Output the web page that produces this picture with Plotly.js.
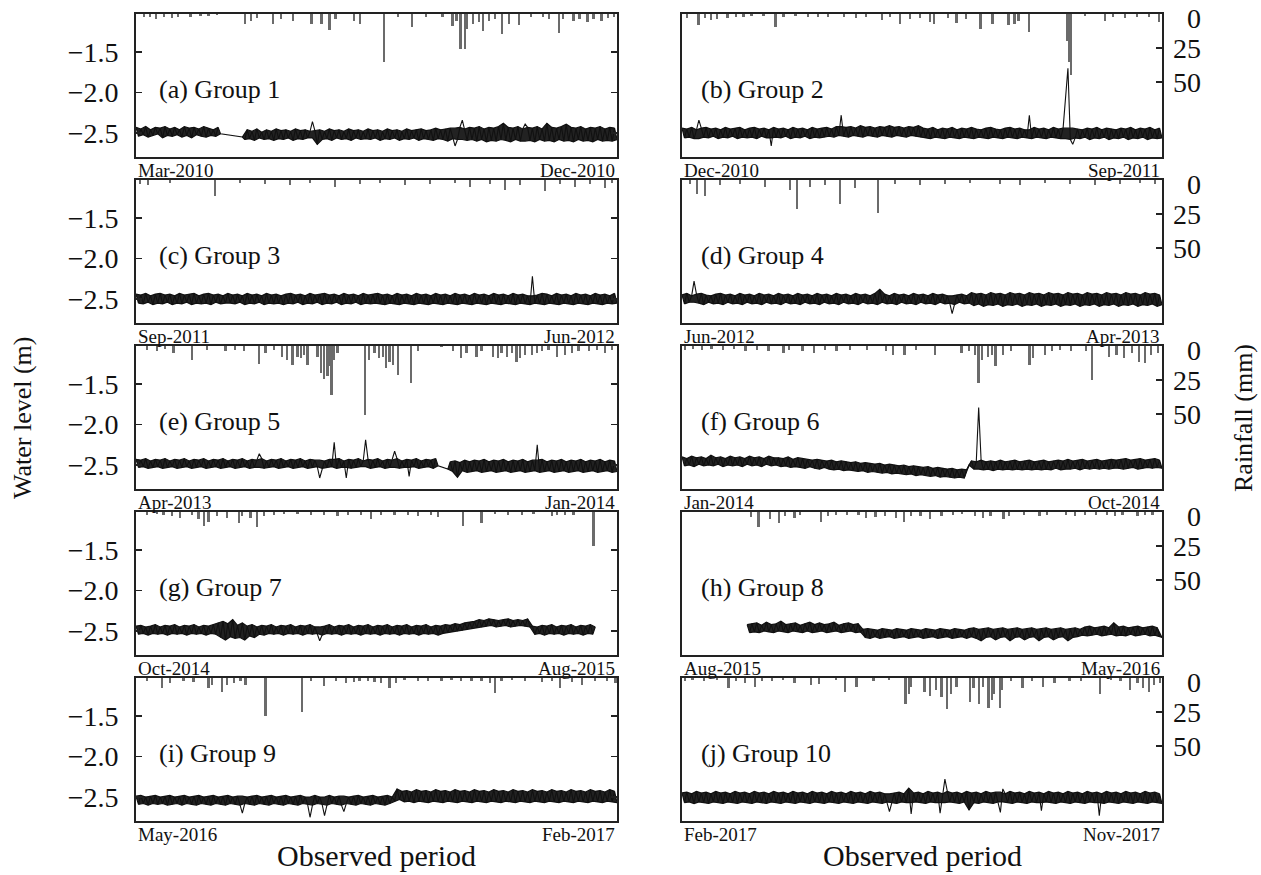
<!DOCTYPE html>
<html><head><meta charset="utf-8">
<script src="https://cdn.plot.ly/plotly-3.0.1.min.js"></script>
<style>html,body{margin:0;padding:0;background:#fff}#chart{width:1261px;height:875px}</style>
</head><body><div id="chart"></div>
<script>
// ---------- labels ----------
const groupLabels = ['(a) Group 1','(b) Group 2','(c) Group 3','(d) Group 4','(e) Group 5','(f) Group 6','(g) Group 7','(h) Group 8','(i) Group 9','(j) Group 10'];
const startMonths = ['Mar-2010','Dec-2010','Sep-2011','Jun-2012','Apr-2013','Jan-2014','Oct-2014','Aug-2015','May-2016','Feb-2017'];
const endMonths   = ['Dec-2010','Sep-2011','Jun-2012','Apr-2013','Jan-2014','Oct-2014','Aug-2015','May-2016','Feb-2017','Nov-2017'];
const levelTicks = [-1.5, -2.0, -2.5];
const levelTickText = ['\u22121.5','\u22122.0','\u22122.5'];
const rainTicks = [0, 25, 50];

// ---------- water level: depth below datum in cm (level = -depth/100 m), 200 evenly spaced readings per period; null = no record ----------
const depthA = [243,254,245,252,242,255,246,253,243,251,244,256,242,253,245,254,243,252,246,255,
242,253,244,256,243,252,245,254,242,255,244,253,246,254,243,251,null,null,null,null,
null,null,null,null,255,258,246,257,248,259,245,256,249,258,246,257,248,259,245,257,
247,258,246,256,248,259,245,257,247,258,246,256,248,236,247,264,246,258,248,257,
245,259,247,256,246,258,248,257,245,259,247,256,246,258,248,257,245,258,247,256,
246,259,248,257,245,258,247,256,246,259,248,257,245,258,247,256,246,259,245,257,
247,258,246,259,244,257,246,258,245,260,244,257,266,258,243,234,245,259,243,258,
244,260,242,258,245,261,243,259,244,260,242,258,238,259,243,261,244,258,242,260,
245,239,243,259,244,261,242,258,245,260,238,259,243,261,244,258,242,260,239,259,
243,261,244,258,242,260,245,259,243,261,244,258,242,260,245,259,243,260,244,258];
const depthB = [244,256,245,255,243,257,246,234,244,255,243,256,245,254,244,257,246,255,243,256,
245,254,244,257,243,255,246,256,244,255,243,257,245,254,244,256,246,266,243,255,
245,256,244,254,246,257,243,255,245,256,244,254,246,257,243,255,245,256,244,255,
243,254,245,255,242,253,228,254,243,255,242,253,244,254,241,255,243,253,242,254,
244,255,242,253,243,254,241,255,243,253,242,254,244,255,242,253,243,254,241,255,
244,256,245,257,243,255,246,256,244,257,245,255,243,256,246,257,244,255,245,256,
243,257,245,255,246,256,244,257,243,255,245,256,246,257,244,255,243,256,245,257,
244,255,246,256,228,257,243,255,245,256,244,257,246,255,243,256,245,257,244,203,
170,258,264,256,245,257,246,255,244,258,245,256,243,257,246,255,244,258,245,256,
246,257,244,255,245,258,243,256,246,257,244,255,245,258,243,256,246,257,244,256];
const depthC = [244,255,245,256,243,254,246,257,244,255,243,256,245,254,244,257,246,255,243,256,
245,254,244,257,243,255,246,256,244,255,243,257,245,254,244,256,246,255,243,255,
245,256,244,254,246,257,243,255,245,256,244,254,246,257,243,255,245,256,244,255,
246,257,244,255,243,256,245,254,244,257,246,255,243,256,245,254,244,257,243,255,
245,256,244,254,246,257,243,255,245,256,244,254,246,257,243,255,245,256,244,255,
243,256,245,257,244,255,246,256,243,257,245,255,244,256,246,257,243,255,245,256,
244,257,246,255,243,256,245,257,244,255,246,256,243,257,245,255,244,256,246,257,
243,255,245,256,244,257,246,255,243,256,245,257,244,255,246,256,243,257,245,255,
244,256,246,257,222,255,245,256,243,257,244,255,246,256,243,257,245,255,244,256,
246,257,243,255,245,256,244,257,246,255,243,256,245,257,244,255,246,256,243,255];
const depthD = [245,256,243,254,246,228,244,255,243,257,245,254,246,256,244,255,243,257,245,254,
244,256,246,255,243,257,245,254,244,256,246,255,243,257,245,254,244,256,246,255,
243,257,245,254,244,256,246,255,243,257,245,254,244,256,246,255,243,257,245,254,
244,256,246,255,243,257,245,254,244,256,246,255,243,257,245,254,244,256,246,255,
243,257,238,254,244,256,246,255,243,257,245,254,244,256,246,255,243,257,245,254,
244,256,246,255,243,257,245,254,244,256,246,255,268,257,245,254,244,256,246,255,
242,258,244,256,243,259,245,257,242,258,244,256,243,259,245,257,242,258,244,256,
243,259,245,257,242,258,244,256,243,259,245,257,242,258,244,256,243,259,245,257,
242,258,244,256,243,259,245,257,242,258,244,256,243,259,245,257,242,258,244,256,
243,259,245,257,242,258,244,256,243,259,245,257,242,258,244,256,243,259,245,257];
const depthE = [243,253,244,252,242,254,245,253,243,252,244,254,242,253,245,252,243,254,244,253,
242,252,245,254,243,253,244,252,242,254,245,253,243,252,244,254,242,253,245,252,
243,254,244,253,242,252,245,254,243,253,244,236,242,254,245,253,243,252,244,254,
242,253,245,252,243,254,244,253,242,252,245,254,243,253,244,252,266,254,245,253,
243,252,222,254,242,253,245,266,243,254,244,253,242,252,245,219,243,254,244,253,
242,252,245,254,243,253,244,233,242,254,245,253,243,264,244,252,242,254,245,253,
243,252,244,254,242,251,null,null,null,255,246,258,245,265,247,257,244,259,246,258,
244,257,245,259,243,258,246,257,244,259,245,258,243,257,246,259,244,258,245,257,
243,259,246,258,244,257,225,259,243,258,246,257,244,259,245,258,243,257,246,259,
244,258,245,257,243,259,246,258,244,257,245,259,243,258,246,257,244,259,245,258];
const depthF = [240,251,242,250,239,252,241,249,240,251,242,250,238,251,241,249,240,252,242,250,
239,251,241,250,240,252,242,249,239,251,241,250,240,252,242,249,239,251,241,250,
241,252,242,251,240,253,243,252,241,253,242,254,243,252,244,254,243,255,244,253,
245,255,244,256,246,255,245,257,246,256,247,257,246,258,248,257,247,259,248,258,
249,259,248,260,250,259,249,261,250,260,251,261,250,262,252,261,251,263,252,262,
253,263,252,264,254,263,253,265,254,264,255,265,254,266,256,265,255,266,256,250,
245,255,246,179,244,256,246,255,245,257,246,255,244,256,246,255,245,256,244,255,
246,256,245,255,244,256,246,255,245,256,244,255,246,256,245,254,244,256,245,255,
243,255,245,254,244,256,243,254,245,255,244,254,243,255,245,254,244,255,243,254,
244,254,243,255,242,254,244,253,243,255,242,254,244,253,243,254,242,253,244,254];
const depthG = [244,254,243,253,245,255,244,253,242,254,245,253,243,255,244,253,242,254,245,253,
243,255,244,253,242,254,245,253,243,255,244,253,242,254,240,258,238,261,241,257,
236,259,243,258,240,261,244,256,242,258,245,254,243,255,244,253,242,254,245,253,
243,255,244,253,242,254,245,253,243,255,244,253,242,254,245,253,262,255,244,253,
242,254,245,253,243,255,244,253,242,254,245,253,243,255,244,253,242,254,245,253,
243,255,244,253,242,254,245,253,243,255,244,253,242,254,245,253,243,255,244,253,
242,254,245,253,243,255,244,253,242,252,243,251,241,250,242,249,240,248,239,247,
238,246,236,245,237,244,235,243,236,245,237,244,236,243,235,245,237,244,236,243,
237,244,235,245,244,254,245,253,243,255,244,253,242,254,245,253,243,255,244,253,
242,254,245,253,243,255,244,253,242,254,245,null,null,null,null,null,null,null,null,null];
const depthH = [null,null,null,null,null,null,null,null,null,null,null,null,null,null,null,null,null,null,null,null,
null,null,null,null,null,null,null,242,252,241,251,240,252,243,250,239,251,242,252,241,
250,238,251,242,252,241,250,240,251,243,252,241,250,239,252,242,251,240,250,242,
252,241,251,239,250,243,252,241,251,240,250,242,252,241,251,248,258,247,259,248,
257,249,259,247,258,248,257,249,259,247,258,248,257,249,259,247,258,248,257,249,
259,247,258,248,257,249,259,247,258,248,257,249,259,247,258,248,257,249,259,247,
257,246,259,248,262,247,258,246,257,248,261,247,258,246,257,248,262,247,258,246,
257,248,261,247,258,246,257,248,262,247,258,246,257,248,261,247,258,246,257,248,
262,247,258,246,257,248,255,245,256,244,255,246,254,245,256,244,255,246,254,240,
256,245,255,244,256,246,254,245,256,244,255,246,254,245,256,244,255,246,257,258];
const depthI = [249,259,248,258,250,260,249,258,248,259,250,258,249,260,248,259,250,258,249,260,
248,258,250,259,249,260,248,258,250,259,249,260,248,258,250,259,249,260,248,258,
250,259,249,260,270,258,250,259,249,260,248,258,250,259,249,260,248,258,250,259,
249,260,248,258,250,259,249,260,248,258,250,259,275,260,248,258,250,259,273,260,
248,258,250,259,249,260,268,258,250,259,249,260,248,258,250,259,249,260,248,258,
250,259,249,260,248,258,250,255,240,253,243,256,242,255,244,257,241,255,243,256,
242,257,244,255,241,256,243,257,242,255,244,256,241,257,243,255,242,256,244,257,
241,255,243,256,242,257,244,255,241,256,243,257,242,255,244,256,241,257,243,255,
242,256,244,257,241,255,243,256,242,257,244,255,241,256,243,257,242,255,244,256,
241,257,243,255,242,256,244,257,241,255,243,256,242,257,244,255,241,256,243,257];
const depthJ = [245,257,244,256,246,258,243,256,245,257,244,258,246,256,243,257,245,258,244,256,
246,257,243,258,245,256,244,257,246,258,243,256,245,257,244,258,246,256,243,257,
245,258,244,256,246,257,243,258,245,256,244,257,246,258,243,256,245,257,244,258,
246,256,243,257,245,258,244,256,246,257,243,258,245,256,244,257,246,258,243,256,
245,257,244,258,246,256,268,257,245,258,244,256,246,257,239,271,245,256,244,257,
246,258,243,256,245,257,244,270,246,228,243,256,245,257,244,258,246,256,243,266,
245,257,244,258,246,256,243,257,245,258,244,256,269,240,246,257,243,258,245,256,
244,257,246,258,243,256,245,257,244,267,246,256,243,257,245,258,244,256,246,257,
243,258,245,256,244,257,246,258,243,256,245,257,244,273,246,258,243,256,245,257,
244,258,246,256,243,257,245,258,244,256,246,257,243,258,245,256,244,257,246,258];

// ---------- daily rainfall: day of period and amount (mm) ----------
const rainDayA = [4.6,8.1,11.5,16.1,20.7,24.2,31.1,36.9,41.5,46.1,62.2,65.7,69.2,78.4,83,89.9,100.3,106,110.6,114.1,124.5,127.9,141.8,149.8,157.9,166,175.2,181,183.2,185.6,187.9,189,192.5,196,198.2,201.7,205.1,209.1,213.2,219,225.9,232.8,236.3,242,244.3,250.1,253.6,258.2,261.6,266.2,269.7,273.1];
const rainMmA  = [2.5,2,3.5,2.5,3,2,2,1.5,1.5,1,7.5,5,3,7,4,5,7.5,7.5,12,4,5,7,35,2.5,9.5,2.5,2,9,5,26,26,11,7.5,6,12.5,5,4,15,7.5,8,2,2.5,4,14,4,5,4,6,4,5,3,2];
const rainDayB = [3,9.4,13.3,16.8,20.2,26,31.1,35.2,39.8,46.7,53.6,58.2,65.1,72,77.8,83.5,92.7,99.6,105.4,114.6,119.2,124.9,130.7,136.5,142.2,144.5,152.6,157.2,162.9,171,177.9,187.1,190.5,192.8,198.6,220.4,221.6,222.7,230.8,242.3,246.9,253.8,260.7,267.6,273.4];
const rainMmB  = [3,8,3,4.5,4,3,2,2,1.5,1.5,9.5,2,1.5,2,2.5,2,2,3,2.5,4.5,2.5,7,4,3,6,7,3,6.5,4,11,7,8,7,5,13,20,35,45,1.5,5,2.5,3,2,2,6];
const rainDayC = [2.3,6.9,19.4,45.2,59.4,73.8,88.1,99.5,113.8,128,139.5,153.8,168.1,182.4,191,202.4,211,219.5,233.8,242.4,251,259.5,268.1,272.1];
const rainMmC  = [3,4,2,12,2,3,4,2,5,3,2,4,3,2,5,3,7,4,8,3,5,3,6,2];
const rainDayD = [4.6,8.6,13.2,21.8,33.2,47.6,61.9,65.9,73.3,81.9,90.5,99.1,112.3,122,136.4,150.7,165,182.2,193.6,208,222.3,236.6,250.9,262.4,271];
const rainMmD  = [3,10,12,4,3,5,7,21,5,4,18,6,24,3,4,3,2,3,4,2,3,4,3,2,3];
const rainDayE = [6.1,11.9,16.7,21.4,32,40.6,51.1,56.8,61.6,70.2,74.1,78.9,83.6,86.5,89.4,92.3,94.2,96.1,98,103.7,105.7,107.6,109.5,110.4,111.8,113.3,115.2,130.9,133.4,136.3,139.1,141.1,143,144.9,146.8,149.7,157.3,161.2,174.6,181.3,186,188.9,194.7,197.5,204.2,207.1,209,211.9,214.8,217.6,219.5,222.4,226.2,229.1,232,235.8,240.6,245.4,249.2,253,258.8,263.6,268.3,272.2];
const rainMmE  = [3,4,2.5,5.5,10,3,4,3,4,13,5,3,8,10,14,8,9,6.5,14,8,20,24,22,15,36,10,5.5,51,10,5.5,9,8,16,11.5,14,21,27,4,1,4,9,5.5,8,4,8,9,5.5,8,5.5,11.5,9,6.5,6.5,5.5,4,3,8,6.5,5.5,4,4,3,5.5,3];
const rainDayF = [1.7,6.1,11.5,16.9,23.4,29.9,36.4,42.9,49.5,58.1,61.4,69,75.5,82,88.5,96.1,105.8,116.7,121,127.5,134,144.9,160.1,164.4,167.7,169.9,172,175.3,177.4,179.6,183.9,188.3,199.1,201.3,207.8,212.1,216.5,223,231.6,234.9,244.7,249,253.3,257.7,262,265.3,268.5,272.9];
const rainMmF  = [3,2.5,3,2.5,3,2.5,4,3,4,5.5,3,4,5,3,3.5,3,3,4,6.5,6.5,3,6.5,5.5,4,6.5,27,10,8,6.5,15,6.5,4,14,9,6.5,4,3,4,4,25,8,6.5,9,5.5,11.5,12.5,6.5,5.5];
const rainDayG = [6.1,11.9,15.7,20.5,25.3,32,35.8,38.7,41.5,46.3,52.1,58.8,60.7,65.5,69.3,73.1,78.9,84.6,92.3,99.9,107.6,115.2,121,128.6,134.4,140.1,147.8,155.4,161.2,168.8,172.6,187,197.5,205.2,212.8,220.5,227.2,237.7,240.6,245.4,250.2,261.6];
const rainMmG  = [2,1.5,2,3,4.5,2.5,5.5,10.5,7,3,4.5,8,3,4.5,11,3,2,1.5,1.5,2,2.5,3,2,2.5,5,2.5,2,2,3,2.5,4,10.5,8,1.5,2,2.5,1.5,3,2.5,2.5,2,25];
const rainDayH = [39.5,43.8,50.3,55.7,59,64.4,67.6,79.5,83.8,88.1,94.6,101.1,105.4,110.8,116.2,122.7,127,131.3,136.7,142.1,148.6,155.1,160.5,168,172.4,176.7,184.2,187.5,196.1,204.8,209.1,219.9,225.3,230.7,237.2,243.6,248,252.3,260.9,265.2,269.6];
const rainMmH  = [4,11,5,8,3,4.5,2,7,3,2.5,2,2,4.5,4,3,4.5,7,3,3,5.5,3,2,1.5,3,4.5,3,5.5,3,2,3,2,2,3,2,2.5,2,3,2,3,2.5,2];
const rainDayI = [6.1,14.7,19.5,27.2,32.9,41.5,43.4,49.2,52.1,55.9,59.7,62.6,74.1,95.1,99.9,107.6,114.3,120,124.8,127.7,132.5,136.3,140.1,144.9,148.7,153.5,161.2,166.9,174.6,180.3,186,191.8,197.5,202.3,205.2,209,214.8,222.4,232,237.7,242.5,249.2,254.9,262.6,269.3,274.1];
const rainMmI  = [2,7,4,2.5,3,7,5,10,5,4,2.5,5,28,25,2.5,6,2,4,3,2.5,2.5,3,4,7,4,1.5,2,2.5,2,1.5,2.5,2,2.5,4,11,2,1.5,2.5,3,2,7,3,5,2.5,2,4];
const rainDayJ = [1.7,6,12.5,20.1,26.6,30.9,36.3,41.7,46,51.4,57.9,64.4,74.1,78.4,88.1,93.5,100,109.7,118.4,128.1,130.2,131.3,138.9,142.1,145.4,148.6,151.8,154,157.2,164.8,167,170.2,172.4,175.6,177.8,178.8,182.1,183.2,188.6,195,200.4,206.9,213.4,222,228.5,239.3,245.8,251.2,256.6,260.9,264.2,267.4,270.6,273.9];
const rainMmJ  = [2,1.5,2,1.5,7.5,2,3.5,6.5,2.5,2,1.5,4,5,4.5,1.5,10,6.5,2,1.5,19,11.5,6.5,10,13,9,14,23,11.5,6.5,18,7.5,19,6.5,22,16.5,11.5,22,9,2.5,7.5,2,6.5,4,2,2.5,11.5,1.5,2,9,4,7.5,10,5,4];

const depths = [depthA,depthB,depthC,depthD,depthE,depthF,depthG,depthH,depthI,depthJ];
const rainDays = [rainDayA,rainDayB,rainDayC,rainDayD,rainDayE,rainDayF,rainDayG,rainDayH,rainDayI,rainDayJ];
const rainMms = [rainMmA,rainMmB,rainMmC,rainMmD,rainMmE,rainMmF,rainMmG,rainMmH,rainMmI,rainMmJ];

// ---------- layout geometry ----------
const W = 1261, H = 875;
const colLeft = [136, 682], colRight = [617, 1162];
const rowTop0 = 14, rowPitch = 166, panelH = 143;
const spanDays = 275;
const levelRange = [-2.796, -1.031];
const rainRange = [105.1, 0];
const FONT = 'Liberation Serif, Times New Roman, serif';
const INK = '#111111', FRAME = '#222222', RAINC = '#6b6b6b';
const SPIKE_CM = 9;

const data = [], annotations = [];
const layout = {
  width: W, height: H, margin: {l:0, r:0, t:0, b:0},
  paper_bgcolor: '#fff', plot_bgcolor: 'rgba(0,0,0,0)',
  showlegend: false, font: {family: FONT, color: INK}, bargap: 0
};
const sfx = n => (n === 1 ? '' : String(n));

// contiguous runs of recorded readings
function runs(d) {
  const out = []; let s = -1;
  d.forEach((v, i) => {
    if (v !== null && s < 0) s = i;
    if ((v === null || i === d.length - 1) && s >= 0) { out.push([s, v === null ? i - 1 : i]); s = -1; }
  });
  return out;
}

for (let k = 0; k < 10; k++) {
  const c = k % 2, r = Math.floor(k / 2);
  const xId = 'x' + sfx(k + 1), rainId = 'y' + sfx(k + 1), lvlId = 'y' + (k + 11);
  const top = rowTop0 + r * rowPitch, bottom = top + panelH;

  data.push({type: 'bar', x: rainDays[k], y: rainMms[k], xaxis: xId, yaxis: rainId,
    width: 1.3, marker: {color: RAINC, line: {width: 0}}, hoverinfo: 'skip'});

  const d = depths[k], n = d.length;
  const xs = d.map((v, i) => i * spanDays / (n - 1));
  // band shading between alternating readings; isolated spikes are left to the thin line only
  runs(d).forEach(([s, e]) => {
    const band = d.slice();
    for (let i = s + 2; i <= e - 2; i++) {
      const a = band[i] - band[i - 2], b = d[i] - d[i + 2];
      if (Math.abs(a) > SPIKE_CM && Math.abs(b) > SPIKE_CM && Math.sign(a) === Math.sign(b)) band[i] = band[i - 2];
    }
    const ev = [], od = [];
    for (let i = s; i <= e; i++) (i % 2 === 0 ? ev : od).push(i);
    data.push({type: 'scatter', mode: 'lines', xaxis: xId, yaxis: lvlId, x: ev.map(i => xs[i]), y: ev.map(i => -band[i] / 100),
      line: {width: 1.2, color: INK}, hoverinfo: 'skip'});
    data.push({type: 'scatter', mode: 'lines', xaxis: xId, yaxis: lvlId, x: od.map(i => xs[i]), y: od.map(i => -band[i] / 100),
      line: {width: 1.2, color: INK}, fill: 'tonexty', fillcolor: 'rgba(17,17,17,0.93)', hoverinfo: 'skip'});
  });
  data.push({type: 'scatter', mode: 'lines', xaxis: xId, yaxis: lvlId, connectgaps: true, x: xs,
    y: d.map(v => (v === null ? null : -v / 100)), line: {color: INK, width: 1.1}, hoverinfo: 'skip'});

  layout['xaxis' + sfx(k + 1)] = {domain: [colLeft[c] / W, colRight[c] / W], range: [0, spanDays],
    anchor: rainId, showline: true, mirror: true, linecolor: FRAME, linewidth: 1.8,
    ticks: '', showticklabels: false, showgrid: false, zeroline: false, fixedrange: true};
  layout['yaxis' + sfx(k + 1)] = {domain: [(H - bottom) / H, (H - top) / H], anchor: xId, side: 'right',
    range: rainRange, showline: true, linecolor: FRAME, linewidth: 1.8, showgrid: false, zeroline: false,
    ticks: c === 1 ? 'inside' : '', tickvals: [25, 50], ticklen: 6, tickwidth: 1.3, tickcolor: FRAME,
    showticklabels: false, fixedrange: true};
  layout['yaxis' + (k + 11)] = {overlaying: rainId, anchor: xId, side: 'left', range: levelRange,
    showline: true, linecolor: FRAME, linewidth: 1.8, mirror: c === 0 ? 'ticks' : true,
    ticks: c === 0 ? 'inside' : '', tickvals: levelTicks, ticktext: levelTickText, ticklen: 6, tickwidth: 1.3,
    tickcolor: FRAME, showticklabels: c === 0, ticklabelstandoff: 10,
    tickfont: {family: FONT, size: 28, color: INK}, showgrid: false, zeroline: false, fixedrange: true};

  annotations.push({xref: xId + ' domain', yref: rainId + ' domain', x: (c === 0 ? 21 : 17) / 480, y: 0.47,
    xanchor: 'left', yanchor: 'middle', showarrow: false, text: groupLabels[k],
    font: {family: FONT, size: 26, color: INK}});
  annotations.push({xref: xId + ' domain', yref: rainId + ' domain', x: 0, y: 0, xanchor: 'left', yanchor: 'top',
    yshift: -1, showarrow: false, text: startMonths[k], font: {family: FONT, size: 19, color: INK}});
  annotations.push({xref: xId + ' domain', yref: rainId + ' domain', x: 1, y: 0, xanchor: 'right', yanchor: 'top',
    yshift: -1, showarrow: false, text: endMonths[k], font: {family: FONT, size: 19, color: INK}});
  if (c === 1) {
    rainTicks.forEach(t => annotations.push({xref: 'paper', yref: rainId, x: 1203 / W, y: t,
      xanchor: 'right', yanchor: 'middle', yshift: t === 0 ? -4 : 0, showarrow: false, text: String(t),
      font: {family: FONT, size: 28, color: INK}}));
  }
}
annotations.push({xref: 'paper', yref: 'paper', x: 22 / W, y: (H - 418) / H, textangle: -90, showarrow: false,
  xanchor: 'center', yanchor: 'middle', text: 'Water level (m)', font: {family: FONT, size: 26, color: INK}});
annotations.push({xref: 'paper', yref: 'paper', x: 1243 / W, y: (H - 418) / H, textangle: -90, showarrow: false,
  xanchor: 'center', yanchor: 'middle', text: 'Rainfall (mm)', font: {family: FONT, size: 26, color: INK}});
[376, 922].forEach(cx => annotations.push({xref: 'paper', yref: 'paper', x: cx / W, y: (H - 855) / H,
  showarrow: false, xanchor: 'center', yanchor: 'middle', text: 'Observed period',
  font: {family: FONT, size: 30, color: INK}}));
layout.annotations = annotations;

Plotly.newPlot('chart', data, layout, {staticPlot: true, displayModeBar: false});
</script>
</body></html>
